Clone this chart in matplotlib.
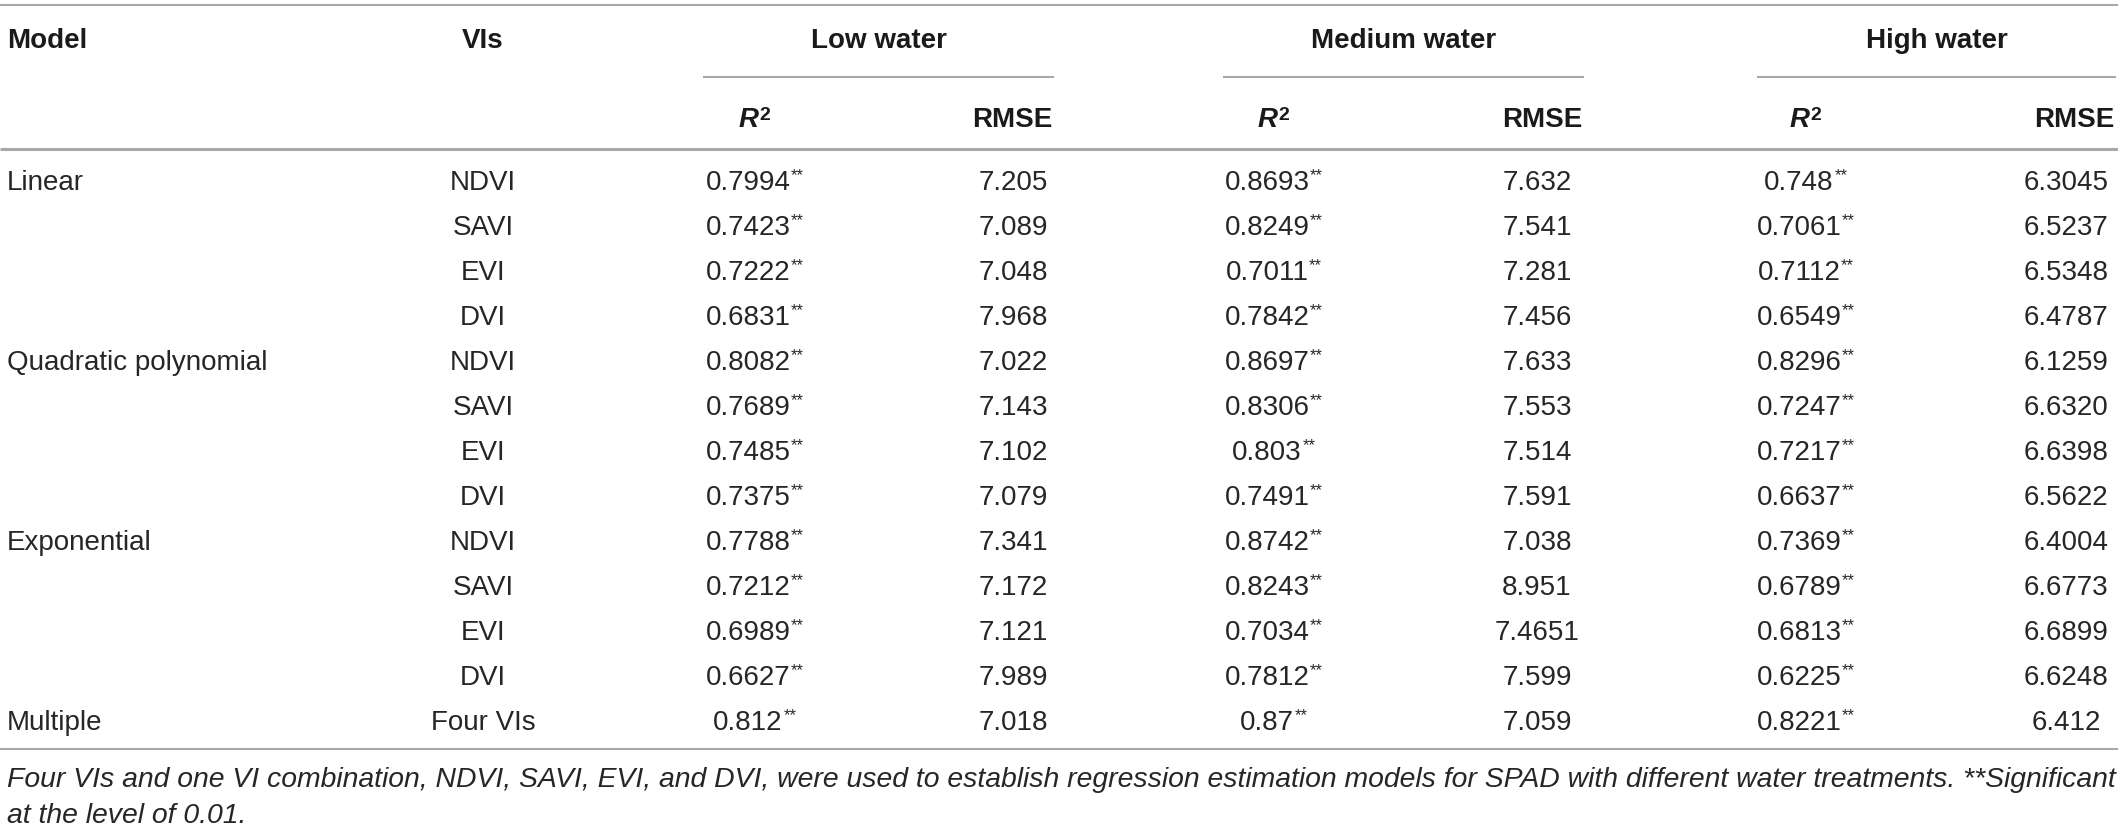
import matplotlib
matplotlib.use("Agg")
import matplotlib.pyplot as plt

plt.rcParams['font.family'] = ['Liberation Sans', 'DejaVu Sans']

# table data
model_names = ['Linear', '', '', '', 'Quadratic polynomial', '', '', '',
               'Exponential', '', '', '', 'Multiple']
vi_names = ['NDVI', 'SAVI', 'EVI', 'DVI'] * 3 + ['Four VIs']
low_r2 = ['0.7994', '0.7423', '0.7222', '0.6831', '0.8082', '0.7689', '0.7485',
          '0.7375', '0.7788', '0.7212', '0.6989', '0.6627', '0.812']
low_rmse = ['7.205', '7.089', '7.048', '7.968', '7.022', '7.143', '7.102',
            '7.079', '7.341', '7.172', '7.121', '7.989', '7.018']
med_r2 = ['0.8693', '0.8249', '0.7011', '0.7842', '0.8697', '0.8306', '0.803',
          '0.7491', '0.8742', '0.8243', '0.7034', '0.7812', '0.87']
med_rmse = ['7.632', '7.541', '7.281', '7.456', '7.633', '7.553', '7.514',
            '7.591', '7.038', '8.951', '7.4651', '7.599', '7.059']
high_r2 = ['0.748', '0.7061', '0.7112', '0.6549', '0.8296', '0.7247', '0.7217',
           '0.6637', '0.7369', '0.6789', '0.6813', '0.6225', '0.8221']
high_rmse = ['6.3045', '6.5237', '6.5348', '6.4787', '6.1259', '6.6320', '6.6398',
             '6.5622', '6.4004', '6.6773', '6.6899', '6.6248', '6.412']
groups = ['Low water', 'Medium water', 'High water']
footnote = ['Four VIs and one VI combination, NDVI, SAVI, EVI, and DVI, were used to '
            'establish regression estimation models for SPAD with different water '
            'treatments. **Significant',
            'at the level of 0.01.']

W, H = 2118, 829
fig = plt.figure(figsize=(W / 100, H / 100), dpi=100)
ax = fig.add_axes([0, 0, 1, 1])
ax.set_xlim(0, W)
ax.set_ylim(H, 0)
ax.axis('off')

fs = 20
txt_c = '#262626'
line_c = '#a8a8a8'

# layout (pixels)
x_model = 7
x_vi = 483
r2_x = [754, 1273, 1805]
rmse_x = [1013, 1537, 2066]
span = [(703, 1054), (1223, 1584), (1757, 2116)]
row0, dy = 190, 45

# rules
ax.plot([0, W], [6, 6], color=line_c, lw=1.5, solid_capstyle='butt')
ax.plot([0, W], [150, 150], color=line_c, lw=2.2, solid_capstyle='butt')
ax.plot([0, W], [750, 750], color=line_c, lw=1.5, solid_capstyle='butt')
for a, b in span:
    ax.plot([a, b], [78, 78], color=line_c, lw=1.5, solid_capstyle='butt')

# headers
hd = dict(fontsize=fs, fontweight='bold', color='#1a1a1a', va='baseline')
ax.text(x_model, 48, 'Model', ha='left', **hd)
ax.text(x_vi, 48, 'VIs', ha='center', **hd)
for g, (a, b), rx in zip(groups, span, r2_x):
    ax.text((a + b) / 2, 48, g, ha='center', **hd)
    r = ax.text(rx + 5, 127, 'R', ha='right', style='italic', **hd)
    ax.annotate('2', xy=(1, 1), xycoords=r, xytext=(0, 0), textcoords='offset points',
                ha='left', va='top', fontsize=fs * 0.7, fontweight='bold', color='#1a1a1a')
    ax.text(b - 2, 127, 'RMSE', ha='right', **hd)

# body
bd = dict(fontsize=fs, color=txt_c, va='baseline')
cols = [(low_r2, low_rmse), (med_r2, med_rmse), (high_r2, high_rmse)]
for i in range(len(vi_names)):
    y = row0 + i * dy
    if model_names[i]:
        ax.text(x_model, y, model_names[i], ha='left', **bd)
    ax.text(x_vi, y, vi_names[i], ha='center', **bd)
    for (r2s, rms), rx, mx in zip(cols, r2_x, rmse_x):
        t = ax.text(rx - 6, y, r2s[i], ha='center', **bd)
        ax.annotate('**', xy=(1, 1), xycoords=t, xytext=(0.5, 1), textcoords='offset points',
                    ha='left', va='top', fontsize=fs * 0.6, color=txt_c)
        ax.text(mx, y, rms[i], ha='center', **bd)

# footnote
ax.text(x_model, 787, footnote[0], ha='left', va='baseline', fontsize=fs * 1.02,
        style='italic', color=txt_c)
ax.text(x_model, 823, footnote[1], ha='left', va='baseline', fontsize=fs * 1.02,
        style='italic', color=txt_c)

fig.savefig('out.png', dpi=100)
